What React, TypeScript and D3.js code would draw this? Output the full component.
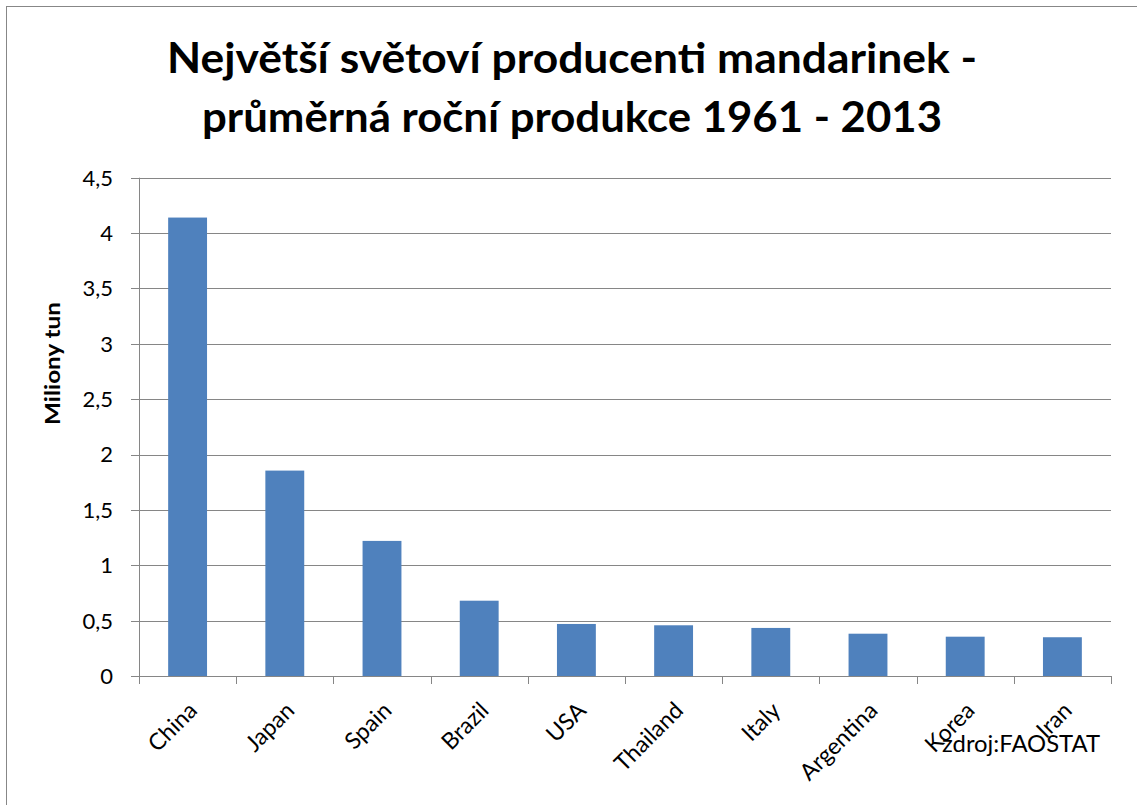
import React from 'react';
import * as d3 from 'd3';

const countries = ['China', 'Japan', 'Spain', 'Brazil', 'USA', 'Thailand', 'Italy', 'Argentina', 'Korea', 'Iran'];
const production = [4.14, 1.855, 1.22, 0.68, 0.47, 0.458, 0.434, 0.382, 0.355, 0.35];
const yTicks = [0, 0.5, 1, 1.5, 2, 2.5, 3, 3.5, 4, 4.5];
const titleLines = ['Největší světoví producenti mandarinek -', 'průměrná roční produkce 1961 - 2013'];
const yLabel = 'Miliony tun';
const source = 'zdroj:FAOSTAT';

const W = 1137, H = 805;
const plot = { left: 139, right: 1111, top: 177.7, bottom: 676 };
const grid = '#868686';
const font = 'Lato, "Open Sans", sans-serif';

const fmt = d3.formatLocale({ decimal: ',', thousands: ' ', grouping: [3], currency: ['', ''] }).format('~g');

export default function App() {
  const x = d3.scaleBand<string>().domain(countries).range([plot.left, plot.right]).padding(0);
  const y = d3.scaleLinear().domain([0, 4.5]).range([plot.bottom, plot.top]);
  const barW = x.bandwidth() * 0.4;

  return (
    <svg width={W} height={H} style={{ position: 'absolute', left: 0, top: 0, background: '#fff' }} fontFamily={font}>
      <rect x={6.5} y={6.5} width={W + 20} height={H + 20} fill="#fff" stroke="#878787" strokeWidth={1} />

      {titleLines.map((t, i) => (
        <text key={i} x={572} y={73 + i * 59} textAnchor="middle" fontWeight="bold" fontSize={42}
          textLength={i === 0 ? 810 : 740} lengthAdjust="spacingAndGlyphs" fill="#000">{t}</text>
      ))}

      {/* gridlines + y ticks */}
      {yTicks.map(t => (
        <g key={t}>
          <line x1={plot.left - 8} x2={plot.right} y1={Math.round(y(t)) + 0.5} y2={Math.round(y(t)) + 0.5} stroke={grid} strokeWidth={1} />
          <text x={113} y={y(t)} dy="0.36em" textAnchor="end" fontSize={22} fill="#000">{fmt(t)}</text>
        </g>
      ))}

      {/* axes */}
      <line x1={plot.left + 0.5} x2={plot.left + 0.5} y1={plot.top} y2={plot.bottom + 8} stroke={grid} strokeWidth={1} />
      {countries.concat(['']).map((c, i) => {
        const xx = i < countries.length ? (x(c) as number) : plot.right;
        return <line key={i} x1={Math.round(xx) + 0.5} x2={Math.round(xx) + 0.5} y1={plot.bottom} y2={plot.bottom + 8} stroke={grid} strokeWidth={1} />;
      })}

      {/* bars */}
      {countries.map((c, i) => (
        <rect key={c} x={(x(c) as number) + x.bandwidth() / 2 - barW / 2} y={y(production[i])}
          width={barW} height={y(0) - y(production[i])} fill="#4F81BD" />
      ))}

      {/* x labels */}
      {countries.map(c => {
        const cx = (x(c) as number) + x.bandwidth() / 2;
        return (
          <text key={c} transform={`translate(${cx + 11},${712}) rotate(-45)`} textAnchor="end" fontSize={23} fill="#000">{c}</text>
        );
      })}

      <text transform="translate(60,363.5) rotate(-90)" textAnchor="middle" fontWeight="bold" fontSize={21}
        textLength={123} lengthAdjust="spacingAndGlyphs" fill="#000">{yLabel}</text>

      <text x={942} y={752} fontSize={23} textLength={158} lengthAdjust="spacingAndGlyphs" fill="#000">{source}</text>
    </svg>
  );
}
